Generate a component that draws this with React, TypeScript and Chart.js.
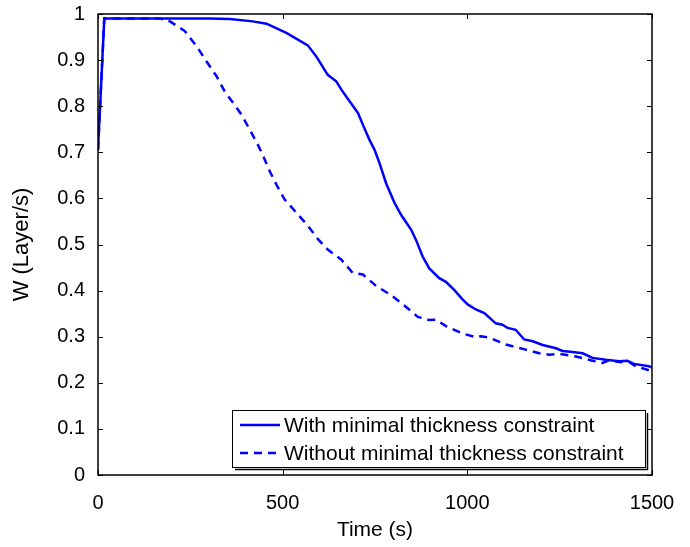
import React, { useEffect, useRef } from "react";
import { Chart, registerables } from "chart.js";

Chart.register(...registerables);

// ---- data ----
const timeWith = [0, 17, 100, 200, 300, 357, 419, 456, 510, 568, 591, 622, 645, 659, 672, 704, 717, 735, 749, 762, 780, 803, 821, 848, 861, 879, 897, 924, 942, 965, 987, 1001, 1023, 1046, 1077, 1095, 1109, 1131, 1154, 1177, 1204, 1240, 1258, 1285, 1312, 1339, 1375, 1411, 1433, 1451, 1492, 1500];
const wWith = [0.705, 0.99, 0.99, 0.99, 0.99, 0.989, 0.984, 0.979, 0.959, 0.932, 0.908, 0.868, 0.854, 0.836, 0.821, 0.785, 0.760, 0.727, 0.705, 0.677, 0.633, 0.590, 0.564, 0.532, 0.510, 0.474, 0.448, 0.427, 0.419, 0.401, 0.381, 0.370, 0.359, 0.351, 0.329, 0.326, 0.319, 0.315, 0.294, 0.290, 0.282, 0.275, 0.269, 0.267, 0.264, 0.254, 0.250, 0.247, 0.248, 0.241, 0.236, 0.233];

const timeWithout = [0, 17, 100, 168, 195, 235, 267, 294, 321, 343, 366, 389, 411, 433, 445, 465, 483, 505, 537, 568, 595, 622, 659, 690, 717, 753, 794, 826, 866, 897, 915, 942, 987, 1023, 1037, 1059, 1104, 1158, 1195, 1222, 1249, 1294, 1339, 1366, 1384, 1411, 1438, 1456, 1492, 1500];
const wWithout = [0.705, 0.99, 0.99, 0.99, 0.984, 0.963, 0.930, 0.897, 0.865, 0.832, 0.807, 0.781, 0.749, 0.716, 0.696, 0.659, 0.630, 0.598, 0.569, 0.541, 0.512, 0.489, 0.467, 0.438, 0.435, 0.410, 0.390, 0.370, 0.343, 0.336, 0.337, 0.323, 0.307, 0.299, 0.301, 0.298, 0.283, 0.272, 0.264, 0.261, 0.263, 0.257, 0.248, 0.243, 0.249, 0.245, 0.245, 0.236, 0.227, 0.224];

const seriesLabels = ["With minimal thickness constraint", "Without minimal thickness constraint"];
const xTickValues = [0, 500, 1000, 1500];
const xTickLabels = ["0", "500", "1000", "1500"];
const yTickValues = [0, 0.1, 0.2, 0.3, 0.4, 0.5, 0.6, 0.7, 0.8, 0.9, 1];
const yTickLabels = ["0", "0.1", "0.2", "0.3", "0.4", "0.5", "0.6", "0.7", "0.8", "0.9", "1"];
const xTitle = "Time (s)";
const yTitle = "W (Layer/s)";

const FONT = "'Liberation Sans', Arial, Helvetica, sans-serif";
const BLUE = "#0000FF";
const DASH = [8, 6];

const boxPlugin = {
  id: "matlabBox",
  afterDatasetsDraw(chart: any) {
    const { ctx, chartArea: a, scales } = chart;
    const xs = scales.x;
    const ys = scales.y;
    ctx.save();
    ctx.strokeStyle = "#000";
    ctx.lineWidth = 1.5;
    ctx.strokeRect(a.left, a.top, a.right - a.left, a.bottom - a.top);
    const tl = 5;
    ctx.lineWidth = 1;
    ctx.beginPath();
    xTickValues.forEach((v) => {
      const px = Math.round(xs.getPixelForValue(v)) + 0.5;
      ctx.moveTo(px, a.bottom);
      ctx.lineTo(px, a.bottom - tl);
      ctx.moveTo(px, a.top);
      ctx.lineTo(px, a.top + tl);
    });
    yTickValues.forEach((v) => {
      const py = Math.round(ys.getPixelForValue(v)) + 0.5;
      ctx.moveTo(a.left, py);
      ctx.lineTo(a.left + tl, py);
      ctx.moveTo(a.right, py);
      ctx.lineTo(a.right - tl, py);
    });
    ctx.stroke();

    // legend
    const w = 413;
    const h = 57;
    const right = a.right - 7;
    const bottom = a.bottom - 8;
    const left = right - w;
    const top = bottom - h;
    ctx.fillStyle = "#fff";
    ctx.fillRect(left, top, w, h);
    ctx.strokeStyle = "#000";
    ctx.lineWidth = 1;
    ctx.strokeRect(left + 0.5, top + 0.5, w, h);
    ctx.lineWidth = 1.5;
    ctx.beginPath();
    ctx.moveTo(left + 3, top + h + 2.5);
    ctx.lineTo(left + w + 2.5, top + h + 2.5);
    ctx.lineTo(left + w + 2.5, top + 3);
    ctx.stroke();

    const rows = [top + 15, top + 43];
    chart.data.datasets.forEach((ds: any, i: number) => {
      const y = rows[i];
      ctx.strokeStyle = ds.borderColor;
      ctx.lineWidth = 2.5;
      ctx.setLineDash(ds.borderDash || []);
      ctx.beginPath();
      ctx.moveTo(left + 8, y);
      ctx.lineTo(left + 48, y);
      ctx.stroke();
      ctx.setLineDash([]);
      ctx.fillStyle = "#000";
      ctx.font = `21px ${FONT}`;
      ctx.textBaseline = "middle";
      ctx.textAlign = "left";
      ctx.fillText(ds.label, left + 52, y + 1);
    });
    ctx.restore();
  },
};

export default function App() {
  const ref = useRef<HTMLCanvasElement | null>(null);
  useEffect(() => {
    if (!ref.current) return;
    const chart = new Chart(ref.current, {
      type: "line",
      data: {
        datasets: [
          {
            label: seriesLabels[0],
            data: timeWith.map((t, i) => ({ x: t, y: wWith[i] })),
            borderColor: BLUE,
            borderWidth: 2.5,
            pointRadius: 0,
            tension: 0,
            fill: false,
          },
          {
            label: seriesLabels[1],
            data: timeWithout.map((t, i) => ({ x: t, y: wWithout[i] })),
            borderColor: BLUE,
            borderWidth: 2.5,
            borderDash: DASH,
            pointRadius: 0,
            tension: 0,
            fill: false,
          },
        ],
      },
      options: {
        responsive: false,
        animation: false,
        layout: { padding: { top: 14, right: 38, left: 0, bottom: 0 } },
        plugins: { legend: { display: false }, tooltip: { enabled: false } },
        scales: {
          x: {
            type: "linear",
            min: 0,
            max: 1500,
            afterBuildTicks: (s: any) => {
              s.ticks = xTickValues.map((v) => ({ value: v }));
            },
            afterFit: (s: any) => {
              s.height = 72;
              s.paddingLeft = 0;
              s.paddingRight = 0;
            },
            grid: { display: false, drawTicks: false },
            border: { display: false },
            ticks: {
              padding: 16,
              autoSkip: false,
              maxRotation: 0,
              color: "#000",
              font: { family: FONT, size: 20 },
              callback: (_v: any, i: number) => xTickLabels[i],
            },
            title: {
              display: true,
              text: xTitle,
              color: "#000",
              font: { family: FONT, size: 21 },
              padding: { top: 0, bottom: 4 },
            },
          },
          y: {
            type: "linear",
            min: 0,
            max: 1,
            afterBuildTicks: (s: any) => {
              s.ticks = yTickValues.map((v) => ({ value: v }));
            },
            afterFit: (s: any) => {
              s.width = 98;
              s.paddingTop = 0;
              s.paddingBottom = 0;
            },
            grid: { display: false, drawTicks: false },
            border: { display: false },
            ticks: {
              padding: 13,
              autoSkip: false,
              color: "#000",
              font: { family: FONT, size: 20 },
              callback: (_v: any, i: number) => yTickLabels[i],
            },
            title: {
              display: true,
              text: yTitle,
              color: "#000",
              font: { family: FONT, size: 22 },
              padding: { top: 9, bottom: 0 },
            },
          },
        },
      },
      plugins: [boxPlugin],
    });
    return () => chart.destroy();
  }, []);
  return (
    <div style={{ position: "absolute", left: 0, top: 0, width: 690, height: 547, background: "#fff" }}>
      <canvas ref={ref} width={690} height={547} />
    </div>
  );
}
